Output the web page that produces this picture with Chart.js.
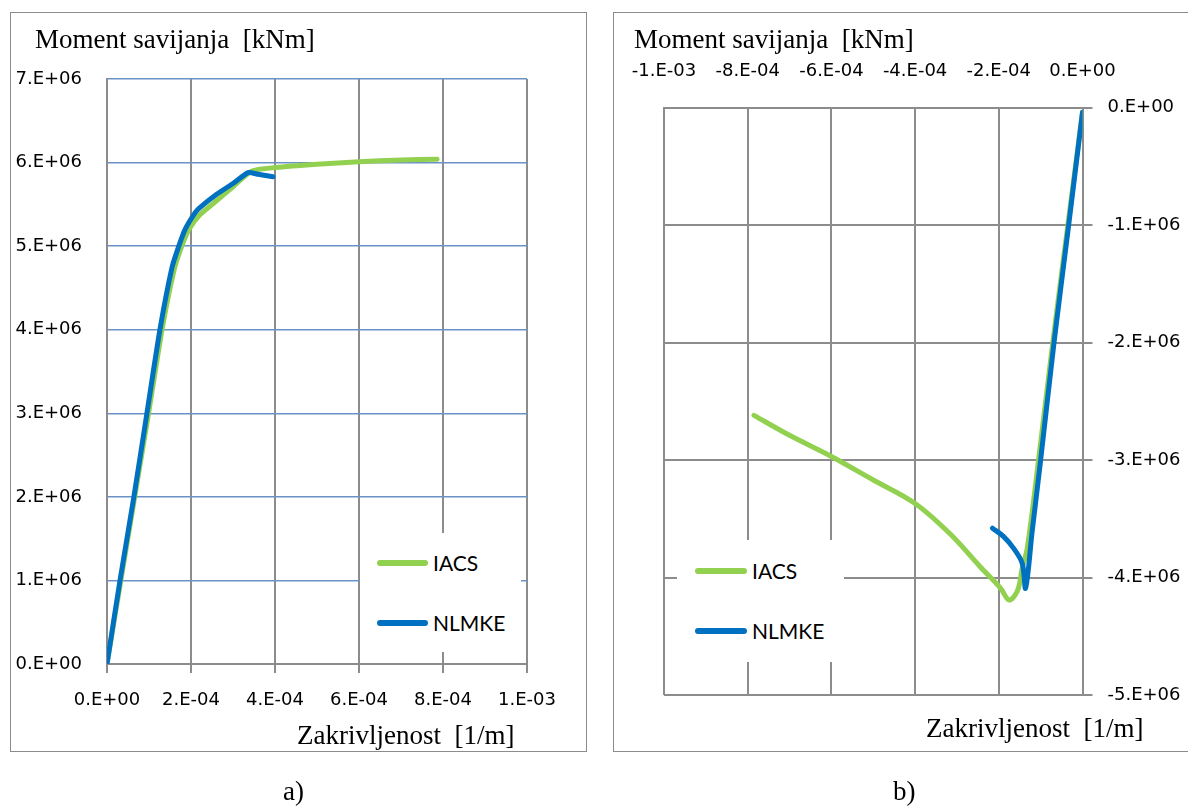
<!DOCTYPE html>
<html>
<head>
<meta charset="utf-8">
<title>Moment savijanja - zakrivljenost</title>
<script src="https://cdn.jsdelivr.net/npm/chart.js@4.4.1/dist/chart.umd.min.js"></script>
<style>
  body { margin: 0; width: 1188px; height: 807px; position: relative; overflow: hidden; background: #fff; }
  .frame { position: absolute; top: 12px; height: 740px; border: 1.5px solid #8c8c8c; box-sizing: border-box; }
  .plot { position: absolute; top: 0; height: 807px; }
  .cap { position: absolute; font-family: "Liberation Serif", "Times New Roman", serif; font-size: 27px; line-height: 1; white-space: pre; color: #000; z-index: 3; }
  .legend { position: absolute; background: #fff; z-index: 2; }
  .legend .sw { position: absolute; height: 6px; border-radius: 3px; }
  .legend .tx { position: absolute; font-family: Lato, sans-serif; font-size: 21px; line-height: 1; color: #000; }
</style>
</head>
<body>
<div class="frame" style="left:10px;width:577px"></div>
<div class="frame" style="left:613px;width:590px"></div>
<div class="plot" style="left:0;width:600px"><canvas id="chartA"></canvas></div>
<div class="plot" style="left:600px;width:588px"><canvas id="chartB"></canvas></div>
<div class="legend" id="legA" style="left:360px;top:533px;width:161px;height:119px"></div>
<div class="legend" id="legB" style="left:677px;top:540px;width:167px;height:122px"></div>
<div class="cap" style="left:35px;top:26px">Moment savijanja  [kNm]</div>
<div class="cap" style="left:297px;top:722px">Zakrivljenost  [1/m]</div>
<div class="cap" style="left:283px;top:778px">a)</div>
<div class="cap" style="left:634px;top:26px">Moment savijanja  [kNm]</div>
<div class="cap" style="left:926px;top:715px">Zakrivljenost  [1/m]</div>
<div class="cap" style="left:893px;top:778px">b)</div>

<script>
const seriesNames = ['IACS', 'NLMKE'];

// a) pozitivni moment (progib)
const aIacsX = [0, 0.33e-4, 0.66e-4, 0.99e-4, 1.31e-4, 1.6e-4, 1.78e-4, 1.95e-4, 2.2e-4, 2.6e-4, 3.0e-4, 3.45e-4, 4.0e-4, 5.0e-4, 6.0e-4, 7.0e-4, 7.86e-4];
const aIacsY = [0, 1e6, 2e6, 3e6, 4e6, 4.72e6, 5.0e6, 5.2e6, 5.37e6, 5.54e6, 5.71e6, 5.9e6, 5.94e6, 5.98e6, 6.01e6, 6.03e6, 6.04e6];
const aNlmkeX = [0, 0.31e-4, 0.64e-4, 0.95e-4, 1.26e-4, 1.55e-4, 1.71e-4, 1.86e-4, 2.1e-4, 2.21e-4, 2.61e-4, 3.0e-4, 3.36e-4, 3.6e-4, 3.95e-4];
const aNlmkeY = [0, 1e6, 2e6, 3e6, 4e6, 4.75e6, 5.0e6, 5.2e6, 5.4e6, 5.46e6, 5.62e6, 5.75e6, 5.88e6, 5.86e6, 5.83e6];
const aTicksX = [0, 2e-4, 4e-4, 6e-4, 8e-4, 1e-3];
const aTicksY = [0, 1e6, 2e6, 3e6, 4e6, 5e6, 6e6, 7e6];

// b) negativni moment (pregib)
const bIacsX = [0, -0.35e-4, -0.71e-4, -1.05e-4, -1.32e-4, -1.44e-4, -1.53e-4, -1.65e-4, -1.77e-4, -1.96e-4, -2.44e-4, -3.16e-4, -4.0e-4, -5.0e-4, -6.0e-4, -7.0e-4, -7.85e-4];
const bIacsY = [-0.04e6, -1e6, -2e6, -3e6, -3.75e6, -3.92e6, -4.09e6, -4.17e6, -4.19e6, -4.09e6, -3.91e6, -3.63e6, -3.37e6, -3.17e6, -2.97e6, -2.79e6, -2.62e6];
const bNlmkeX = [0, -0.33e-4, -0.68e-4, -1.0e-4, -1.2e-4, -1.36e-4, -1.44e-4, -1.65e-4, -1.89e-4, -2.15e-4];
const bNlmkeY = [-0.04e6, -1e6, -2e6, -3e6, -3.6e6, -4.09e6, -3.88e6, -3.75e6, -3.65e6, -3.58e6];
const bTicksX = [-1e-3, -8e-4, -6e-4, -4e-4, -2e-4, 0];
const bTicksY = [-5e6, -4e6, -3e6, -2e6, -1e6, 0];

const GREEN = '#92d050', BLUE = '#0070c0', GRAY = '#8c8c8c', GRIDBLUE = '#6a92c8';
const tickFont = { family: 'DejaVu Sans', size: 18 };

function sci(v) {
  if (Math.abs(v) < 1e-12) return '0.E+00';
  let e = Math.floor(Math.log10(Math.abs(v)) + 1e-9);
  let m = Math.round(v / Math.pow(10, e));
  if (Math.abs(m) >= 10) { m = m / 10; e += 1; }
  return m + '.E' + (e < 0 ? '-' : '+') + String(Math.abs(e)).padStart(2, '0');
}

function pts(xs, ys) {
  return xs.map((x, i) => ({ x: x, y: ys[i] }));
}

function useTicks(list) {
  return scale => { scale.ticks = list.map(v => ({ value: v })); };
}

function curves(iacsX, iacsY, nlmkeX, nlmkeY, tension) {
  const common = { showLine: true, pointRadius: 0, borderWidth: 5, tension: tension, borderCapStyle: 'round', borderJoinStyle: 'round' };
  return [
    Object.assign({ label: seriesNames[0], data: pts(iacsX, iacsY), borderColor: GREEN, backgroundColor: GREEN, order: 2 }, common),
    Object.assign({ label: seriesNames[1], data: pts(nlmkeX, nlmkeY), borderColor: BLUE, backgroundColor: BLUE, order: 1 }, common)
  ];
}

function buildLegend(el, chart, rows, swLeft, swWidth, txLeft) {
  chart.data.datasets.forEach((ds, i) => {
    const sw = document.createElement('span');
    sw.className = 'sw';
    sw.style.cssText = 'left:' + swLeft + 'px;top:' + (rows[i] - 3) + 'px;width:' + swWidth + 'px;background:' + ds.borderColor;
    const tx = document.createElement('span');
    tx.className = 'tx';
    tx.style.cssText = 'left:' + txLeft + 'px;top:' + (rows[i] - 11) + 'px';
    tx.textContent = ds.label;
    el.appendChild(sw);
    el.appendChild(tx);
  });
}

function generateA() {
  return new Chart(document.getElementById('chartA'), {
    type: 'scatter',
    data: { datasets: curves(aIacsX, aIacsY, aNlmkeX, aNlmkeY, 0.2) },
    options: {
      responsive: true,
      maintainAspectRatio: false,
      animation: false,
      events: [],
      devicePixelRatio: 1,
      layout: { padding: { left: 0, right: 73, top: 79, bottom: 0 } },
      plugins: { legend: { display: false }, tooltip: { enabled: false } },
      scales: {
        x: {
          type: 'linear', position: 'bottom', min: 0, max: 1e-3,
          afterBuildTicks: useTicks(aTicksX),
          afterFit: s => { s.height = 143; },
          ticks: { callback: v => sci(v), font: tickFont, color: '#000', padding: 17, maxRotation: 0 },
          grid: { color: GRAY, lineWidth: 2, tickLength: 9 },
          border: { color: GRAY, width: 2 }
        },
        y: {
          type: 'linear', min: 0, max: 7e6,
          afterBuildTicks: useTicks(aTicksY),
          afterFit: s => { s.width = 107; },
          ticks: { callback: v => sci(v), font: tickFont, color: '#000', padding: 25 },
          grid: { color: c => (c.tick && c.tick.value === 0) ? GRAY : GRIDBLUE, lineWidth: 1.5, drawTicks: false },
          border: { color: GRAY, width: 2 }
        }
      }
    }
  });
}

function generateB() {
  return new Chart(document.getElementById('chartB'), {
    type: 'scatter',
    data: { datasets: curves(bIacsX, bIacsY, bNlmkeX, bNlmkeY, 0.35) },
    options: {
      responsive: true,
      maintainAspectRatio: false,
      animation: false,
      events: [],
      devicePixelRatio: 1,
      layout: { padding: { left: 64, right: 0, top: 0, bottom: 112 } },
      plugins: { legend: { display: false }, tooltip: { enabled: false } },
      scales: {
        x: {
          type: 'linear', position: 'top', min: -1e-3, max: 0,
          afterBuildTicks: useTicks(bTicksX),
          afterFit: s => { s.height = 107.5; },
          ticks: { callback: v => sci(v), font: tickFont, color: '#000', padding: 25, maxRotation: 0 },
          grid: { color: GRAY, lineWidth: 2, drawTicks: false },
          border: { color: GRAY, width: 2 }
        },
        y: {
          type: 'linear', position: 'right', min: -5e6, max: 0,
          afterBuildTicks: useTicks(bTicksY),
          afterFit: s => { s.width = 105.5; },
          ticks: { callback: v => sci(v), font: tickFont, color: '#000', padding: 15 },
          grid: { color: GRAY, lineWidth: 2, tickLength: 10 },
          border: { color: GRAY, width: 2 }
        }
      }
    }
  });
}

const chartA = generateA();
const chartB = generateB();
buildLegend(document.getElementById('legA'), chartA, [30, 90], 17, 51, 73);
buildLegend(document.getElementById('legB'), chartB, [31, 91], 18, 52, 75);
</script>
</body>
</html>
